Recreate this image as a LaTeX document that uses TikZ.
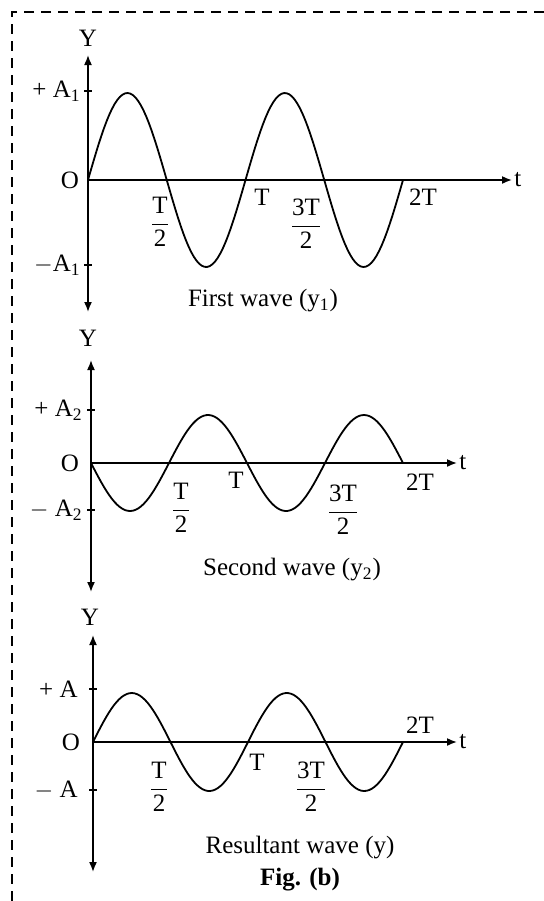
\documentclass[tikz,border=0pt]{standalone}
\usepackage{amsmath}
\usepackage{fontspec}
\setmainfont{Liberation Serif}
\usetikzlibrary{arrows.meta}

\begin{document}
\begin{tikzpicture}[
  x=0.5pt, y=-0.5pt,
  axis/.style={line width=0.8pt, -{Latex[length=5pt, width=4pt]}},
  yaxis/.style={line width=0.8pt, {Latex[length=5pt, width=4pt]}-{Latex[length=5pt, width=4pt]}},
  tick/.style={line width=0.8pt},
  wave/.style={line width=0.9pt, line join=round},
  lab/.style={font=\fontsize{12.5}{14}\selectfont, inner sep=1pt},
  frame/.style={line width=0.7pt, dash pattern=on 5pt off 3.5pt},
]
\useasboundingbox (0,0) rectangle (544,901);

%% ---- Dashed frame ----
\coordinate (fr0) at (544,12);
\coordinate (fr1) at (12,12);
\coordinate (fr2) at (12,901);
\draw[frame] (fr0) -- (fr1) -- (fr2);

%% ---- Panel 1: first wave ----
\coordinate (o1)  at (88,180);
\coordinate (yt1) at (88,55);
\coordinate (yb1) at (88,312);
\coordinate (te1) at (512,180);
\draw[yaxis] (yb1) -- (yt1);
\draw[axis]  (o1) -- (te1);
\draw[tick] (84,91) -- (92,91);
\draw[tick] (84,265) -- (92,265);
\draw[wave] plot[domain=88:403, samples=120] (\x, {180-87*sin((\x-88)/157.5*360)});
\node[lab] (ylab1) at (88,38) {Y};
\node[lab, anchor=east] (ap1) at (83,91) {+ A\textsubscript{1}};
\node[lab] (olab1) at (70,180) {O};
\node[lab, anchor=east] (am1) at (83,265) {$-$A\textsubscript{1}};
\node[lab, anchor=west] (tlab1) at (512,180) {t};
\node[lab] (h1) at (160,222) {$\dfrac{\text{T}}{\text{2}}$};
\node[lab] (p1) at (262,197) {T};
\node[lab] (th1) at (306,224) {$\dfrac{\text{3T}}{\text{2}}$};
\node[lab] (tt1) at (423,197) {2T};
\node[lab] (cap1) at (263,301) {First wave (y\textsubscript{1})};

%% ---- Panel 2: second wave ----
\coordinate (o2)  at (91,463);
\coordinate (yt2) at (91,360);
\coordinate (yb2) at (91,592);
\coordinate (te2) at (457,463);
\draw[yaxis] (yb2) -- (yt2);
\draw[axis]  (o2) -- (te2);
\draw[tick] (87,410) -- (95,410);
\draw[tick] (87,510) -- (95,510);
\draw[wave] plot[domain=91:403, samples=120] (\x, {463+48*sin((\x-91)/156*360)});
\node[lab] (ylab2) at (88,338) {Y};
\node[lab, anchor=east] (ap2) at (85,410) {+ A\textsubscript{2}};
\node[lab] (olab2) at (70,463) {O};
\node[lab, anchor=east] (am2) at (85,510) {$-$ A\textsubscript{2}};
\node[lab, anchor=west] (tlab2) at (457,463) {t};
\node[lab] (h2) at (181,508) {$\dfrac{\text{T}}{\text{2}}$};
\node[lab] (p2) at (236,480) {T};
\node[lab] (th2) at (343,510) {$\dfrac{\text{3T}}{\text{2}}$};
\node[lab] (tt2) at (420,482) {2T};
\node[lab] (cap2) at (292,570) {Second wave (y\textsubscript{2})};

%% ---- Panel 3: resultant wave ----
\coordinate (o3)  at (93,742);
\coordinate (yt3) at (93,635);
\coordinate (yb3) at (93,872);
\coordinate (te3) at (457,742);
\draw[yaxis] (yb3) -- (yt3);
\draw[axis]  (o3) -- (te3);
\draw[tick] (89,689) -- (97,689);
\draw[tick] (89,790) -- (97,790);
\draw[wave] plot[domain=93:403, samples=120] (\x, {742-49*sin((\x-93)/155*360)});
\node[lab] (ylab3) at (90,617) {Y};
\node[lab, anchor=east] (ap3) at (80,689) {+ A};
\node[lab] (olab3) at (71,742) {O};
\node[lab, anchor=east] (am3) at (80,790) {$-$ A};
\node[lab, anchor=west] (tlab3) at (457,742) {t};
\node[lab] (h3) at (159,787) {$\dfrac{\text{T}}{\text{2}}$};
\node[lab] (p3) at (257,762) {T};
\node[lab] (th3) at (311,787) {$\dfrac{\text{3T}}{\text{2}}$};
\node[lab] (tt3) at (420,725) {2T};
\node[lab] (cap3) at (300,848) {Resultant wave (y)};
\node[lab, font=\fontsize{12.5}{14}\selectfont\bfseries] (fig) at (300,880) {Fig. (b)};

\end{tikzpicture}
\end{document}
